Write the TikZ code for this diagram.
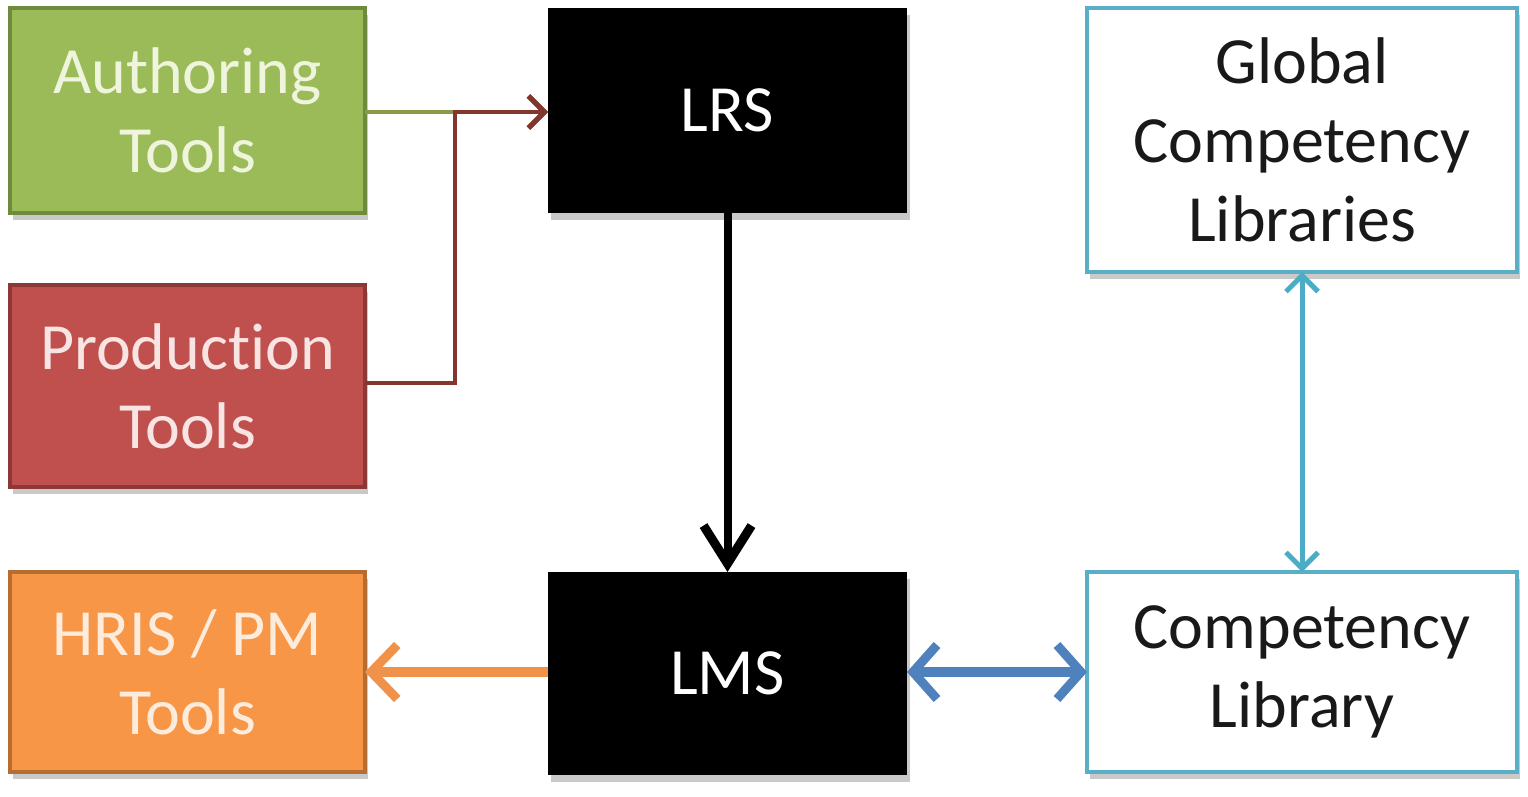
\documentclass[tikz,border=0pt]{standalone}
\usepackage{fontspec}
\setmainfont{Carlito}[Ligatures=NoCommon]
\usetikzlibrary{arrows.meta,shadows,calc}
\definecolor{grfill}{HTML}{9BBB59}
\definecolor{grline}{HTML}{6E8A3C}
\definecolor{grtext}{HTML}{EEF5DC}
\definecolor{rdfill}{HTML}{C0504D}
\definecolor{rdline}{HTML}{8C3836}
\definecolor{rdtext}{HTML}{F8E4E2}
\definecolor{orfill}{HTML}{F79646}
\definecolor{orline}{HTML}{B66D31}
\definecolor{ortext}{HTML}{FDEBDC}
\definecolor{cyline}{HTML}{5AAFC6}
\definecolor{blarrow}{HTML}{4F81BD}
\definecolor{orarrow}{HTML}{F0924A}
\definecolor{grarrow}{HTML}{8A9A48}
\definecolor{rdarrow}{HTML}{84352E}
\definecolor{cyarrow}{HTML}{4BACC6}
\begin{document}
\begin{tikzpicture}[x=1pt,y=-1pt,
  box/.style={rectangle, align=center, inner sep=0pt, outer sep=0pt,
    font=\fontsize{66}{79}\selectfont,
    drop shadow={shadow xshift=3pt, shadow yshift=-7pt, opacity=0.35, fill=black!60}},
  greenbox/.style={box, fill=grfill, draw=grline, line width=4pt, text=grtext},
  redbox/.style={box, fill=rdfill, draw=rdline, line width=4pt, text=rdtext},
  orangebox/.style={box, fill=orfill, draw=orline, line width=4pt, text=ortext},
  blackbox/.style={box, fill=black, text=white},
  whitebox/.style={box, fill=white, draw=cyline, line width=4.5pt, text=black!90},
  thinarrow/.style={line width=4.5pt, -{Straight Barb[length=16pt,width=32pt,line width=5pt]}},
]
\useasboundingbox (0,0) rectangle (1528,796);
\fill[white] (0,0) rectangle (1528,796);

\node[greenbox, minimum width=355pt, minimum height=205pt] (auth) at (187.5,110.5) {Authoring\\Tools};
\node[redbox, minimum width=355pt, minimum height=202pt] (prod) at (187.5,386) {Production\\Tools};
\node[orangebox, minimum width=355pt, minimum height=200pt] (hris) at (187.5,672) {HRIS / PM\\Tools};
\node[blackbox, minimum width=359pt, minimum height=205pt] (lrs) at (727.5,110.5) {LRS};
\node[blackbox, minimum width=359pt, minimum height=203pt] (lms) at (727.5,673.5) {LMS};
\node[whitebox, minimum width=430pt, minimum height=264pt] (glob) at (1302,140) {Global\\Competency\\Libraries};
\node[whitebox, minimum width=430pt, minimum height=200pt] (comp) at (1302,672) {Competency\\Library};

\coordinate (j1) at (455,383);
\coordinate (j2) at (455,112);

% Authoring -> LRS
\draw[grarrow, thinarrow] (auth.east |- j2) -- (lrs.west |- j2);
% Production -> LRS
\draw[rdarrow, thinarrow] (prod.east |- j1) -- (j1) -- (j2) -- (lrs.west |- j2);

% LRS -> LMS
\draw[black, line width=8pt, -{Straight Barb[length=38pt,width=48pt,line width=9pt]}] (lrs.south) -- (lms.north);

% LMS -> HRIS
\draw[orarrow, line width=10pt, -{Straight Barb[length=26pt,width=54pt,line width=9pt]}] (lms.west |- 0,672) -- (hris.east |- 0,672);

% LMS <-> Competency Library
\draw[blarrow, line width=10pt, {Straight Barb[length=24pt,width=54pt,line width=9pt]}-{Straight Barb[length=24pt,width=54pt,line width=9pt]}] (lms.east |- 0,672) -- (comp.west |- 0,672);

% Global <-> Competency Library
\draw[cyarrow, line width=5pt, {Straight Barb[length=16pt,width=32pt,line width=5pt]}-{Straight Barb[length=16pt,width=32pt,line width=5pt]}] (glob.south) -- (comp.north);
\end{tikzpicture}
\end{document}
